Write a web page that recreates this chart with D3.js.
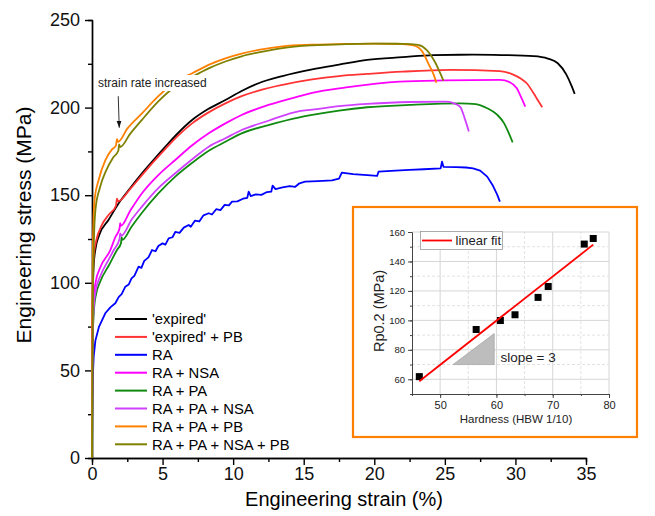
<!DOCTYPE html>
<html>
<head>
<meta charset="utf-8">
<script src="https://cdn.jsdelivr.net/npm/d3@7"></script>
<style>
  body { margin: 0; background: #fff; }
  svg { display: block; font-family: "Liberation Sans", Arial, sans-serif; }
  .axis path, .axis line { stroke: #000; }
  .axis text { fill: #111; }
</style>
</head>
<body>
<div id="chart"></div>
<script>
// strain (%), stress (MPa)
const expired = [[0,0],[0.02,60],[0.06,95],[0.12,110],[0.24,119],[0.5,127],[1.18,136],[1.89,145.4],[2.7,154],[3.54,162.5],[4.4,170.5],[5.2,177.7],[6.1,185.5],[7.09,192.9],[8.2,199],[9.45,204.3],[10.6,209.5],[11.8,213.9],[13.5,218],[15.6,221.8],[17.5,224.5],[19.5,227.2],[22,228.8],[24.2,230],[27,230.2],[29,230],[31.3,229.4],[32.3,228],[33,225.3],[33.6,219],[34,212],[34.2,207.8]];
const expiredPB = [[0,0],[0.02,70],[0.06,100],[0.12,115],[0.3,124],[0.7,133],[1.2,139],[1.7,144],[1.77,148],[1.85,146.5],[2.7,153.5],[3.54,161.5],[4.4,169.5],[5.2,176.5],[6.1,184],[7.09,191],[8.2,197],[9.45,202.4],[10.6,206.5],[11.8,209.7],[13.5,213],[15.6,216.1],[17.5,218],[19.5,219.2],[22,220.5],[25.4,221.5],[28.9,220.8],[29.8,219],[30.4,216.5],[30.8,213.9],[31.3,208],[31.6,204],[31.9,200.2]];
const ra = [[0,0],[0.02,30],[0.05,45],[0.12,57.8],[0.24,67],[0.5,75],[0.94,82.6],[1.3,86],[1.65,88.3],[1.9,92],[2.1,93.5],[2.36,97.8],[2.6,99],[2.8,102.5],[3.0,104],[3.3,109.2],[3.5,108.5],[3.7,112.5],[4.0,114.5],[4.25,118.7],[4.5,118],[4.7,121],[5.0,122.5],[5.2,121.8],[5.43,125.4],[5.7,126],[5.9,129],[6.2,128.5],[6.5,131.5],[6.85,133],[7.0,132],[7.3,135.5],[7.6,135],[7.9,138.5],[8.27,139.7],[8.5,139],[8.8,142],[9.1,141.5],[9.4,144.5],[9.7,144.2],[9.92,146.3],[10.3,146.5],[10.7,148],[11,148.5],[11.1,152],[11.25,149.5],[11.6,150.5],[12,150.2],[12.4,151.8],[12.7,152],[12.8,155.5],[13,153.5],[13.5,154.5],[14,155.2],[14.4,154.8],[14.7,156.8],[15.1,157.7],[16,158],[17,158.5],[17.5,159.5],[17.7,162.9],[18.5,162],[19.5,161.5],[20.2,161],[20.3,163.4],[21.5,164],[22.5,164.5],[23.5,164.8],[24.7,165.3],[24.8,169.1],[24.9,166.2],[25.8,166],[26.5,165.8],[27,165.3],[27.5,164],[28,160.6],[28.4,155.5],[28.7,150.5],[28.9,146.3]];
const raNSA = [[0,0],[0.02,55],[0.06,80],[0.12,92],[0.25,100],[0.6,109],[1.3,118.7],[1.65,126],[1.95,131],[2.0,134],[2.05,132.5],[2.7,141],[3.54,151.1],[4.7,161.5],[5.9,170.1],[7.1,178.5],[8.27,185.3],[9.45,191],[10.6,195.8],[12.5,201.5],[14.7,206.5],[15.6,208.4],[18,211.5],[21.8,214.8],[25,215.5],[28.9,215.8],[29.6,214.5],[30.1,211],[30.4,206],[30.7,200.5]];
const raPA = [[0,0],[0.02,45],[0.06,70],[0.12,82],[0.25,92],[0.6,101],[1.2,110],[1.77,118.7],[2.05,122.5],[2.1,126],[2.15,124.5],[2.8,132],[3.54,140],[4.7,151],[5.9,160.6],[7.1,168.5],[8.3,175.5],[9.45,180.5],[10.6,185.3],[12.5,190],[14.7,194.4],[15.6,195.8],[17.5,198.3],[19.5,200.2],[22.5,201.5],[26.1,202.4],[27.2,202],[28,199.6],[28.7,196],[29.2,191],[29.5,186],[29.8,180.2]];
const raPANSA = [[0,0],[0.02,48],[0.06,73],[0.12,85],[0.25,95],[0.6,104],[1.2,113.5],[1.54,118.7],[1.95,125],[2.0,128.2],[2.08,127],[2.8,136],[3.54,143.5],[4.7,154],[5.9,162.5],[7.1,170.5],[8.27,177.7],[9.45,182.5],[10.6,187.2],[12.5,192.5],[14.7,198],[15.6,198.8],[17.5,200.8],[19.5,202.1],[22.5,203.2],[25.1,203.4],[25.7,202.3],[26.1,200.3],[26.4,194],[26.6,189],[26.7,186.3]];
const raPAPB = [[0,0],[0.02,70],[0.05,110],[0.1,135],[0.19,148],[0.47,158.7],[0.95,170],[1.4,176],[1.7,178.5],[1.77,182],[1.85,180.5],[2.5,188],[3.54,196.7],[4.7,206.5],[5.9,214.8],[7.1,219.6],[8.3,224.5],[9.45,228.1],[10.6,230.8],[11.8,232.9],[13.5,235],[15.6,235.9],[18,236.3],[20,236.5],[22,236.3],[22.8,235.5],[23.4,232],[23.9,224],[24.2,219],[24.4,214.2]];
const raPANSAPB = [[0,0],[0.02,20],[0.04,60],[0.08,100],[0.15,128],[0.25,142],[0.55,154],[1.0,164],[1.5,171.5],[1.87,175.5],[1.92,179],[2.0,177.5],[2.7,185],[3.54,193],[4.7,203.5],[5.9,212],[7.1,217.5],[8.3,222.5],[9.45,226.3],[10.6,229.3],[11.8,231.5],[13.5,234],[15.6,235.5],[18,236.2],[20,236.5],[22,236.4],[23.1,235.8],[23.7,233],[24.3,226],[24.6,221],[24.9,215.4]];

const seriesNames = ["'expired'", "'expired' + PB", "RA", "RA + NSA", "RA + PA", "RA + PA + NSA", "RA + PA + PB", "RA + PA + NSA + PB"];
const seriesData = [expired, expiredPB, ra, raNSA, raPA, raPANSA, raPAPB, raPANSAPB];
const seriesColors = ["#000000", "#ff3333", "#0000ff", "#ff00ff", "#108a10", "#d040ff", "#ff8000", "#808000"];

const xTicks = [0, 5, 10, 15, 20, 25, 30, 35];
const yTicks = [0, 50, 100, 150, 200, 250];

// inset: hardness vs Rp0.2
const hardness = [46.3, 56.4, 60.7, 63.3, 67.4, 69.2, 75.6, 77.2];
const rp02 = [61.8, 93.8, 99.9, 103.8, 115.6, 123, 151.8, 155.6];
const fitX = [46.3, 77.2];
const fitY = [58.7, 151.4];
const slopeTriX = [52.3, 59.6, 59.6];
const slopeTriY = [70, 70, 91];
const insetXTicks = [50, 60, 70, 80];
const insetYTicks = [60, 80, 100, 120, 140, 160];

const W = 655, H = 516;
const svg = d3.select('#chart').append('svg')
  .attr('width', W).attr('height', H);

const x = d3.scaleLinear().domain([0, 35]).range([92, 586]);
const y = d3.scaleLinear().domain([0, 250]).range([458, 20]);

// axes
function addAxis(axis, transform) {
  return svg.append('g').attr('class', 'axis').attr('transform', transform).call(axis);
}
addAxis(d3.axisBottom(x).tickValues(d3.range(2.5, 35, 5)).tickSize(4).tickFormat(''), 'translate(0,458)');
addAxis(d3.axisLeft(y).tickValues(d3.range(25, 250, 50)).tickSize(4).tickFormat(''), 'translate(92,0)');
const gx = addAxis(d3.axisBottom(x).tickValues(xTicks).tickSize(7).tickSizeOuter(0).tickPadding(2), 'translate(0,458)');
const gy = addAxis(d3.axisLeft(y).tickValues(yTicks).tickSize(7).tickSizeOuter(0).tickPadding(5), 'translate(92,0)');
svg.selectAll('.axis path, .axis line').style('stroke-width', 1.4);
svg.selectAll('.axis text').style('font-size', '18px').style('font-family', '"Liberation Sans", Arial, sans-serif');

svg.append('text')
  .attr('x', 344).attr('y', 506)
  .attr('text-anchor', 'middle')
  .style('font-size', '20px')
  .text('Engineering strain (%)');

svg.append('text')
  .attr('transform', 'translate(31,225) rotate(-90)')
  .attr('text-anchor', 'middle')
  .style('font-size', '21px')
  .text('Engineering stress (MPa)');

// curves
const line = d3.line().x(d => x(d[0])).y(d => y(d[1])).curve(d3.curveMonotoneX);
const rawLine = d3.line().x(d => x(d[0])).y(d => y(d[1]));

seriesData.forEach((data, i) => {
  svg.append('path')
    .attr('d', i === 2 ? rawLine(data) : line(data))
    .attr('fill', 'none')
    .attr('stroke', seriesColors[i])
    .attr('stroke-width', 1.8)
    .attr('stroke-linejoin', 'round');
});

// annotation
svg.append('rect')
  .attr('x', 96).attr('y', 75).attr('width', 117).attr('height', 16)
  .attr('fill', '#fff');
svg.append('text')
  .attr('x', 98).attr('y', 87)
  .style('font-size', '12px')
  .attr('fill', '#222')
  .text('strain rate increased');

svg.append('defs').append('marker')
  .attr('id', 'arrow')
  .attr('viewBox', '0 0 10 10')
  .attr('refX', 10).attr('refY', 5)
  .attr('markerWidth', 7).attr('markerHeight', 7)
  .attr('orient', 'auto')
  .append('path').attr('d', 'M0,1.5L10,5L0,8.5Z').attr('fill', '#111');
svg.append('line')
  .attr('x1', x(1.86)).attr('y1', y(206.5))
  .attr('x2', x(1.93)).attr('y2', y(188.5))
  .attr('stroke', '#333').attr('stroke-width', 1)
  .attr('marker-end', 'url(#arrow)');

// legend
const legend = svg.append('g').attr('transform', 'translate(115,319)');
seriesNames.forEach((name, i) => {
  const row = legend.append('g').attr('transform', `translate(0,${i * 17.9})`);
  row.append('line').attr('x1', 0).attr('x2', 32)
    .attr('stroke', seriesColors[i]).attr('stroke-width', 2);
  row.append('text').attr('x', 37).attr('y', 5.3)
    .style('font-size', '14.8px').text(name);
});

// inset
svg.append('rect')
  .attr('x', 353).attr('y', 207).attr('width', 284).attr('height', 230)
  .attr('fill', '#fff').attr('stroke', '#ff8000').attr('stroke-width', 2.2);

const ix = d3.scaleLinear().domain([45, 80]).range([412, 609]);
const iy = d3.scaleLinear().domain([50, 160]).range([394, 232]);
const inset = svg.append('g');

// grid
inset.selectAll('.vg').data(d3.range(50, 81, 5)).enter().append('line')
  .attr('x1', d => ix(d)).attr('x2', d => ix(d))
  .attr('y1', iy(50)).attr('y2', iy(160))
  .attr('stroke', d => d % 10 === 0 ? '#d6d6d6' : '#e2e2e2')
  .attr('stroke-dasharray', d => d % 10 === 0 ? null : '3,2');
inset.selectAll('.hg').data(d3.range(60, 161, 10)).enter().append('line')
  .attr('x1', ix(45)).attr('x2', ix(80))
  .attr('y1', d => iy(d)).attr('y2', d => iy(d))
  .attr('stroke', d => d % 20 === 0 ? '#d6d6d6' : '#e2e2e2')
  .attr('stroke-dasharray', d => d % 20 === 0 ? null : '3,2');

const igx = inset.append('g').attr('transform', `translate(0,${iy(50)})`);
igx.call(d3.axisBottom(ix).tickValues(d3.range(45, 81, 5)).tickSize(2).tickFormat('').tickSizeOuter(0));
igx.call(g => g.append('g').call(d3.axisBottom(ix).tickValues(insetXTicks).tickSize(4).tickSizeOuter(0).tickPadding(3)));
const igy = inset.append('g').attr('transform', `translate(${ix(45)},0)`);
igy.call(d3.axisLeft(iy).tickValues(d3.range(50, 161, 10)).tickSize(2).tickFormat('').tickSizeOuter(0));
igy.call(g => g.append('g').call(d3.axisLeft(iy).tickValues(insetYTicks).tickSize(4).tickSizeOuter(0).tickPadding(3)));
inset.selectAll('path.domain, .tick line').attr('stroke', '#444');
igx.selectAll('text').style('font-size', '11px').attr('fill', '#222');
igy.selectAll('text').style('font-size', '9.5px').attr('fill', '#222');

inset.append('text')
  .attr('x', 516).attr('y', 422.5)
  .attr('text-anchor', 'middle')
  .style('font-size', '11.5px').attr('fill', '#222')
  .text('Hardness (HBW 1/10)');
inset.append('text')
  .attr('transform', 'translate(384,311) rotate(-90)')
  .attr('text-anchor', 'middle')
  .style('font-size', '14.5px').attr('fill', '#222')
  .text('Rp0.2 (MPa)');

// slope triangle
inset.append('path')
  .attr('d', d3.line()(slopeTriX.map((v, i) => [ix(v), iy(slopeTriY[i])])) + 'Z')
  .attr('fill', '#bdbdbd').attr('stroke', '#a8a8a8').attr('stroke-width', 0.8);
inset.append('text')
  .attr('x', 500.5).attr('y', 362)
  .style('font-size', '13.5px').attr('fill', '#222')
  .text('slope = 3');

// points and fit
inset.selectAll('.pt').data(hardness).enter().append('rect')
  .attr('x', (d, i) => ix(d) - 3.5)
  .attr('y', (d, i) => iy(rp02[i]) - 3.5)
  .attr('width', 7).attr('height', 7)
  .attr('fill', '#000');
inset.append('line')
  .attr('x1', ix(fitX[0])).attr('y1', iy(fitY[0]))
  .attr('x2', ix(fitX[1])).attr('y2', iy(fitY[1]))
  .attr('stroke', '#ff0000').attr('stroke-width', 1.8);

// inset legend
inset.append('rect')
  .attr('x', 420.5).attr('y', 231.5).attr('width', 82).attr('height', 18)
  .attr('fill', '#fff').attr('stroke', '#9a9a9a').attr('stroke-width', 0.8);
inset.append('line')
  .attr('x1', 422).attr('x2', 452).attr('y1', 240.5).attr('y2', 240.5)
  .attr('stroke', '#ff0000').attr('stroke-width', 1.8);
inset.append('text')
  .attr('x', 455.5).attr('y', 245)
  .style('font-size', '13px').attr('fill', '#222')
  .text('linear fit');
</script>
</body>
</html>
